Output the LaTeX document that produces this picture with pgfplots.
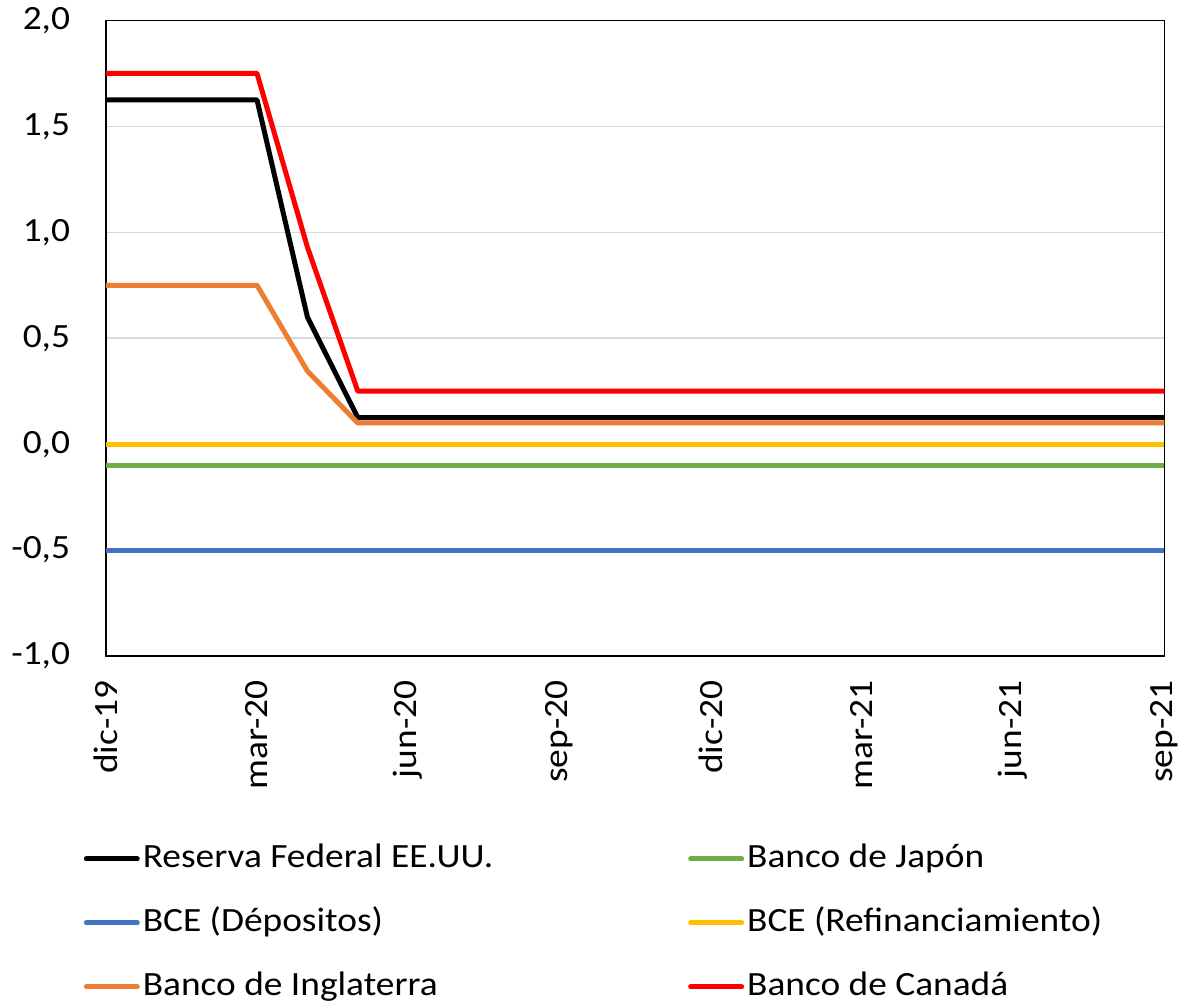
\documentclass[border=0pt]{standalone}
\usepackage{pgfplots}
\pgfplotsset{compat=1.18}
\usepackage{fontspec}
\setmainfont{Carlito}[FakeStretch=1.1]
\definecolor{cgreen}{HTML}{70AD47}
\definecolor{cblue}{HTML}{4472C4}
\definecolor{cyellow}{HTML}{FFC000}
\definecolor{corange}{HTML}{ED7D31}
\definecolor{cred}{HTML}{FF0000}
\begin{document}
\fontsize{17}{20}\selectfont
\begin{tikzpicture}
\begin{axis}[
  scale only axis,
  width=529.5pt, height=318pt,
  xmin=0, xmax=21, ymin=-1, ymax=2,
  xtick={0,3,...,21},
  xticklabels={dic-19,mar-20,jun-20,sep-20,dic-20,mar-21,jun-21,sep-21},
  xticklabel style={rotate=90, anchor=east, inner sep=0pt, font=\fontsize{17}{20}\selectfont},
  ytick={-1,-0.5,...,2},
  yticklabel style={inner ysep=3.6pt, font=\fontsize{17}{20}\selectfont, /pgf/number format/.cd, fixed, fixed zerofill, precision=1, use comma, assume math mode=true},
  major tick length=0pt,
  xticklabel shift=11pt,
  yticklabel shift=11pt,
  ymajorgrids,
  grid style={color=black!15, line width=0.75pt},
  axis line style={line width=0.75pt},
  line width=2.5pt,
  every axis plot/.append style={line join=round},
  legend columns=2,
  legend style={draw=none, fill=none, inner sep=0pt, outer sep=0pt, at={(0,0)}, anchor=north west, xshift=-11pt, yshift=-94pt,
    font=\fontsize{17}{20}\selectfont,
    nodes={inner sep=0pt, text height=12pt, text depth=3pt, anchor=west},
    row sep=17pt,
    /tikz/every odd column/.append style={column sep=1.5pt},
    /tikz/column 2/.append style={column sep=97.5pt}},
  legend image code/.code={\draw[#1, line width=2.5pt, line cap=round] (1pt,0pt) -- (26.5pt,0pt);},
]
\addplot[black, no markers] coordinates {(0,1.625)(1,1.625)(2,1.625)(3,1.625)(4,0.6)(5,0.125)(6,0.125)(7,0.125)(8,0.125)(9,0.125)(10,0.125)(11,0.125)(12,0.125)(13,0.125)(14,0.125)(15,0.125)(16,0.125)(17,0.125)(18,0.125)(19,0.125)(20,0.125)(21,0.125)};
\addlegendentry{Reserva Federal EE.UU.}
\addplot[cgreen, no markers] coordinates {(0,-0.1)(21,-0.1)};
\addlegendentry{Banco de Japón}
\addplot[cblue, no markers] coordinates {(0,-0.5)(21,-0.5)};
\addlegendentry{BCE (Dépositos)}
\addplot[cyellow, no markers] coordinates {(0,0)(21,0)};
\addlegendentry{BCE (Refinanciamiento)}
\addplot[corange, no markers] coordinates {(0,0.75)(1,0.75)(2,0.75)(3,0.75)(4,0.345)(5,0.1)(6,0.1)(7,0.1)(8,0.1)(9,0.1)(10,0.1)(11,0.1)(12,0.1)(13,0.1)(14,0.1)(15,0.1)(16,0.1)(17,0.1)(18,0.1)(19,0.1)(20,0.1)(21,0.1)};
\addlegendentry{Banco de Inglaterra}
\addplot[cred, no markers] coordinates {(0,1.75)(1,1.75)(2,1.75)(3,1.75)(4,0.93)(5,0.25)(6,0.25)(7,0.25)(8,0.25)(9,0.25)(10,0.25)(11,0.25)(12,0.25)(13,0.25)(14,0.25)(15,0.25)(16,0.25)(17,0.25)(18,0.25)(19,0.25)(20,0.25)(21,0.25)};
\addlegendentry{Banco de Canadá}
\end{axis}
\end{tikzpicture}
\end{document}
